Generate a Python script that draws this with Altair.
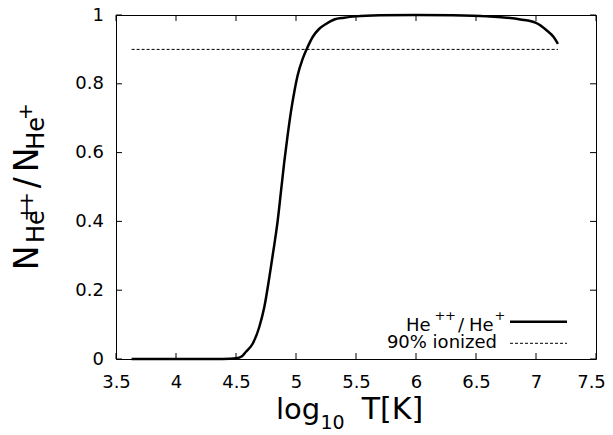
import altair as alt
import pandas as pd

# ---- data ----
log_t = [3.63, 4.0, 4.3, 4.45, 4.5, 4.55, 4.583, 4.64, 4.694, 4.736, 4.778, 4.82,
         4.847, 4.875, 4.903, 4.931, 4.958, 4.986, 5.014, 5.056, 5.097, 5.139,
         5.194, 5.25, 5.319, 5.4, 5.5, 5.7, 6.0, 6.3, 6.59, 6.73, 6.87, 7.0,
         7.09, 7.147, 7.183]
ratio = [0.0, 0.0, 0.0003, 0.001, 0.002, 0.008, 0.021, 0.045, 0.093, 0.151,
         0.238, 0.334, 0.401, 0.488, 0.575, 0.652, 0.719, 0.777, 0.825, 0.873,
         0.907, 0.936, 0.96, 0.974, 0.987, 0.992, 0.996, 0.999, 1.0, 0.999,
         0.996, 0.993, 0.987, 0.977, 0.955, 0.936, 0.916]
ref_x = [3.63, 7.183]
ref_y = [0.9, 0.9]
x_ticks = [3.5, 4.0, 4.5, 5.0, 5.5, 6.0, 6.5, 7.0, 7.5]
y_ticks = [0.0, 0.2, 0.4, 0.6, 0.8, 1.0]
legend_curve = "He"
legend_ref = "90% ionized"

# ---- layout ----
W, H = 480, 344
FONT = "DejaVu Sans"
TICK = 6

curve_df = pd.DataFrame({"logT": log_t, "ratio": ratio})
ref_df = pd.DataFrame({"logT": ref_x, "ratio": ref_y})
xt_df = pd.DataFrame({"logT": x_ticks})
yt_df = pd.DataFrame({"ratio": y_ticks})

xscale = alt.Scale(domain=[3.5, 7.5], nice=False, zero=False)
yscale = alt.Scale(domain=[0, 1], nice=False, zero=False)

x_axis = alt.Axis(values=x_ticks, format="~g", title=None, grid=False,
                  ticks=False, domain=False, labelFont=FONT, labelFontSize=18,
                  labelColor="black", labelPadding=14, labelFlush=False,
                  labelOffset={"condition": {"test": f"datum.value == {x_ticks[-1]}",
                                             "value": -5},
                               "value": 0})
y_axis = alt.Axis(values=y_ticks, format="~g", title=None, grid=False,
                  ticks=False, domain=False, labelFont=FONT, labelFontSize=18,
                  labelColor="black", labelPadding=12.5, labelFlush=False)

X = alt.X("logT:Q", scale=xscale, axis=x_axis)
Y = alt.Y("ratio:Q", scale=yscale, axis=y_axis)

curve = alt.Chart(curve_df).mark_line(
    color="black", strokeWidth=2.5, interpolate="monotone"
).encode(x=X, y=Y)

ref = alt.Chart(ref_df).mark_line(
    color="black", strokeWidth=1, strokeDash=[3, 2]
).encode(x=X, y=Y)


def xtick(y0, y1):
    return alt.Chart(xt_df).mark_rule(color="black", strokeWidth=1).encode(
        x=X, y=alt.value(y0), y2=alt.value(y1))


def ytick(x0, x1):
    return alt.Chart(yt_df).mark_rule(color="black", strokeWidth=1).encode(
        y=Y, x=alt.value(x0), x2=alt.value(x1))


ticks = [xtick(H, H - TICK), xtick(0, TICK), ytick(0, TICK), ytick(W, W - TICK)]


def txt(s, x, y, size, angle=0, align="left", baseline="alphabetic"):
    return alt.Chart(alt.Data(values=[{}])).mark_text(
        text=s, font=FONT, fontSize=size, angle=angle, align=align,
        baseline=baseline, color="black"
    ).encode(x=alt.value(x), y=alt.value(y))


# y-axis title: N_{He}^{++}/N_{He}^{+}
ytitle = [
    txt("N", -77.7, 242.8, 33, 270, "center"),
    txt("He", -71.7, 211.7, 24, 270, "center"),
    txt("+", -83, 198, 20, 270, "center"),
    txt("+", -83, 185.5, 20, 270, "center"),
    txt("/", -77.7, 167.8, 33, 270, "center"),
    txt("N", -77.7, 145, 33, 270, "center"),
    txt("He", -71.7, 118.3, 24, 270, "center"),
    txt("+", -84, 96.5, 20, 270, "center"),
]

# x-axis title: log_{10} T[K]
xtitle = [
    txt("log", 182, 404.3, 29, 0, "center"),
    txt("10", 216.5, 414, 19, 0, "center"),
    txt("T[K]", 276.5, 404.3, 30, 0, "center"),
]

# legend
legend = [
    txt(legend_curve, 290, 315.7, 18),
    txt("+", 318.5, 304.5, 13),
    txt("+", 329, 304.5, 13),
    txt("/", 342, 315.7, 18),
    txt(legend_curve, 353, 315.7, 18),
    txt("+", 378.5, 304.5, 13),
    txt(legend_ref, 381, 333.3, 18, 0, "right"),
    alt.Chart(alt.Data(values=[{}])).mark_rule(color="black", strokeWidth=2.5).encode(
        x=alt.value(394), x2=alt.value(451), y=alt.value(306.7)),
    alt.Chart(alt.Data(values=[{}])).mark_rule(
        color="black", strokeWidth=1, strokeDash=[3, 2]).encode(
        x=alt.value(394), x2=alt.value(451), y=alt.value(328.3)),
]

chart = alt.layer(curve, ref, *ticks, *ytitle, *xtitle, *legend).properties(
    width=W, height=H,
    padding={"left": 108, "top": 7, "right": 9, "bottom": 75},
    autosize=alt.AutoSizeParams(type="none"),
).configure_view(stroke="black", strokeWidth=1)

chart.save("out.html", embed_options={"renderer": "svg", "actions": False})
